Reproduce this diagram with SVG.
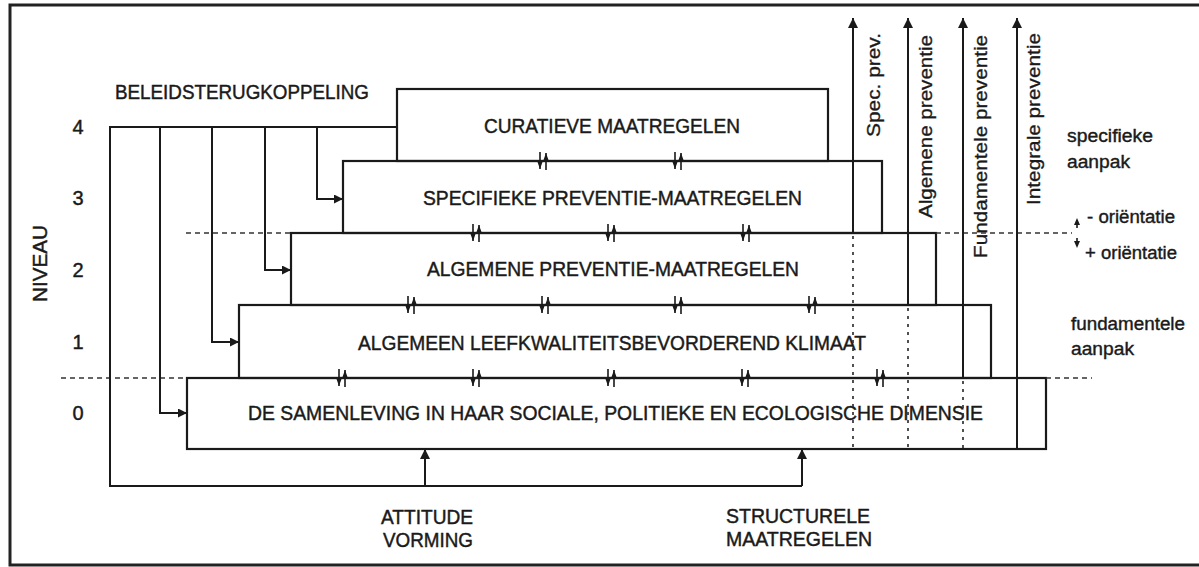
<svg xmlns="http://www.w3.org/2000/svg" width="1199" height="567" viewBox="0 0 1199 567">
<style>
.t{font-family:"Liberation Sans",Arial,sans-serif;font-size:21px;fill:#1a1a1a;stroke:#1a1a1a;stroke-width:0.45}
.n{font-family:"Liberation Sans",Arial,sans-serif;font-size:20px;fill:#1a1a1a;stroke:#1a1a1a;stroke-width:0.45}
.r{font-family:"Liberation Sans",Arial,sans-serif;font-size:19px;fill:#1a1a1a;stroke:#1a1a1a;stroke-width:0.35}
.s{font-family:"Liberation Sans",Arial,sans-serif;font-size:18px;fill:#1a1a1a;stroke:#1a1a1a;stroke-width:0.4}
.box{fill:none;stroke:#1a1a1a;stroke-width:2.2}
.ln{fill:none;stroke:#1a1a1a;stroke-width:2}
.dash{fill:none;stroke:#333;stroke-width:1.7;stroke-dasharray:5 4}
.dot{fill:none;stroke:#333;stroke-width:1.7;stroke-dasharray:3 5}
</style>
<defs>
<marker id="ah" markerUnits="userSpaceOnUse" viewBox="0 0 10 10" refX="10" refY="5" markerWidth="11" markerHeight="9" orient="auto">
<path d="M0,0 L10,5 L0,10 z" fill="#1a1a1a"/>
</marker>
<marker id="au" markerUnits="userSpaceOnUse" viewBox="0 0 10 10" refX="10" refY="5" markerWidth="12" markerHeight="10" orient="auto">
<path d="M0,0 L10,5 L0,10 z" fill="#1a1a1a"/>
</marker>
<g id="ud">
<path d="M-3,-9 V8 M3,-8 V9" stroke="#1a1a1a" stroke-width="1.6" fill="none"/>
<path d="M-5.5,1 L-0.5,1 L-3,8 z M0.5,-1 L5.5,-1 L3,-8 z" fill="#1a1a1a"/>
</g>
</defs>
<rect width="1199" height="567" fill="#fff"/>
<g id="frame">
<path d="M1199,5 H10 V565 H1199" fill="none" stroke="#222" stroke-width="3"/>
</g>
<g id="levels">
<text class="n" x="78" y="134" text-anchor="middle">4</text>
<text class="n" x="78" y="205" text-anchor="middle">3</text>
<text class="n" x="78" y="277" text-anchor="middle">2</text>
<text class="n" x="78" y="349" text-anchor="middle">1</text>
<text class="n" x="78" y="420" text-anchor="middle">0</text>
<text class="n" transform="translate(47,302) rotate(-90)" x="0" y="0" textLength="77" lengthAdjust="spacingAndGlyphs">NIVEAU</text>
</g>
<g id="beleid">
<text class="n" x="115" y="99" textLength="254" lengthAdjust="spacingAndGlyphs">BELEIDSTERUGKOPPELING</text>
</g>
<g id="curatieve">
<rect class="box" x="397" y="89" width="431" height="72"/>
<text class="t" x="484" y="133" textLength="256" lengthAdjust="spacingAndGlyphs">CURATIEVE MAATREGELEN</text>
</g>
<g id="specifieke">
<rect class="box" x="343" y="161" width="539" height="72"/>
<text class="t" x="423" y="205" textLength="379" lengthAdjust="spacingAndGlyphs">SPECIFIEKE PREVENTIE-MAATREGELEN</text>
</g>
<g id="algemene">
<rect class="box" x="291" y="233" width="645" height="72"/>
<text class="t" x="427" y="276" textLength="372" lengthAdjust="spacingAndGlyphs">ALGEMENE PREVENTIE-MAATREGELEN</text>
</g>
<g id="leefklimaat">
<rect class="box" x="239" y="305" width="752" height="73"/>
<text class="t" x="358" y="350" textLength="508" lengthAdjust="spacingAndGlyphs">ALGEMEEN LEEFKWALITEITSBEVORDEREND KLIMAAT</text>
</g>
<g id="samenleving">
<rect class="box" x="187" y="378" width="859" height="71"/>
<text class="t" x="248" y="420" textLength="735" lengthAdjust="spacingAndGlyphs">DE SAMENLEVING IN HAAR SOCIALE, POLITIEKE EN ECOLOGISCHE DIMENSIE</text>
</g>
<g id="interactions">
<use href="#ud" x="543" y="161"/><use href="#ud" x="678" y="161"/>
<use href="#ud" x="476" y="233"/><use href="#ud" x="611" y="233"/><use href="#ud" x="746" y="233"/>
<use href="#ud" x="411" y="305"/><use href="#ud" x="545" y="305"/><use href="#ud" x="678" y="305"/><use href="#ud" x="812" y="305"/>
<use href="#ud" x="342" y="378"/><use href="#ud" x="476" y="378"/><use href="#ud" x="611" y="378"/><use href="#ud" x="745" y="378"/><use href="#ud" x="880" y="378"/>
</g>
<g id="attitude">
<text class="n" x="427" y="524" text-anchor="middle" textLength="92" lengthAdjust="spacingAndGlyphs">ATTITUDE</text>
<text class="n" x="428" y="547" text-anchor="middle" textLength="90" lengthAdjust="spacingAndGlyphs">VORMING</text>
</g>
<g id="structurele">
<text class="n" x="798" y="523" text-anchor="middle" textLength="144" lengthAdjust="spacingAndGlyphs">STRUCTURELE</text>
<text class="n" x="799" y="546" text-anchor="middle" textLength="146" lengthAdjust="spacingAndGlyphs">MAATREGELEN</text>
</g>
<g id="spec-prev">
<text class="r" transform="translate(880,137) rotate(-90)" x="0" y="0" textLength="104" lengthAdjust="spacingAndGlyphs">Spec. prev.</text>
</g>
<g id="algemene-preventie">
<text class="r" transform="translate(932,218) rotate(-90)" x="0" y="0" textLength="183" lengthAdjust="spacingAndGlyphs">Algemene preventie</text>
</g>
<g id="fundamentele-preventie">
<text class="r" transform="translate(987,258) rotate(-90)" x="0" y="0" textLength="223" lengthAdjust="spacingAndGlyphs">Fundamentele preventie</text>
</g>
<g id="integrale-preventie">
<text class="r" transform="translate(1040,205) rotate(-90)" x="0" y="0" textLength="172" lengthAdjust="spacingAndGlyphs">Integrale preventie</text>
</g>
<g id="aanpak-labels">
<text class="s" x="1067" y="142" textLength="86" lengthAdjust="spacingAndGlyphs">specifieke</text>
<text class="s" x="1067" y="168" textLength="63" lengthAdjust="spacingAndGlyphs">aanpak</text>
<text class="s" x="1071" y="330" textLength="114" lengthAdjust="spacingAndGlyphs">fundamentele</text>
<text class="s" x="1071" y="355" textLength="63" lengthAdjust="spacingAndGlyphs">aanpak</text>
</g>
<g id="orientatie">
<text class="s" x="1087" y="223" textLength="88" lengthAdjust="spacingAndGlyphs">- oriëntatie</text>
<text class="s" x="1085" y="259" textLength="92" lengthAdjust="spacingAndGlyphs">+ oriëntatie</text>
<path d="M1077,218 L1080,225 L1074,225 z M1077,248 L1080,241 L1074,241 z" fill="#1a1a1a"/>
<path d="M1077,225 V228 M1077,238 V241" stroke="#1a1a1a" stroke-width="1.6"/>
</g>
<g id="connectors">
<path class="dash" d="M186,233 H291 M936,233 H1072"/>
<path class="dash" d="M61,378 H187 M1046,378 H1092"/>
<path class="ln" d="M397,127 H110 V486 H802"/>
<path class="ln" d="M160,127 V413 H187" marker-end="url(#ah)"/>
<path class="ln" d="M212,127 V342 H239" marker-end="url(#ah)"/>
<path class="ln" d="M265,127 V270 H291" marker-end="url(#ah)"/>
<path class="ln" d="M317,127 V199 H343" marker-end="url(#ah)"/>
<path class="ln" d="M425,486 V449" marker-end="url(#au)"/>
<path class="ln" d="M802,486 V449" marker-end="url(#au)"/>
<path class="ln" d="M853,233 V18" marker-end="url(#au)"/>
<path class="ln" d="M908,305 V18" marker-end="url(#au)"/>
<path class="ln" d="M963,378 V18" marker-end="url(#au)"/>
<path class="ln" d="M1017,449 V18" marker-end="url(#au)"/>
<path class="dot" d="M853,236 V448 M908,308 V448 M963,381 V448"/>
</g>
</svg>
